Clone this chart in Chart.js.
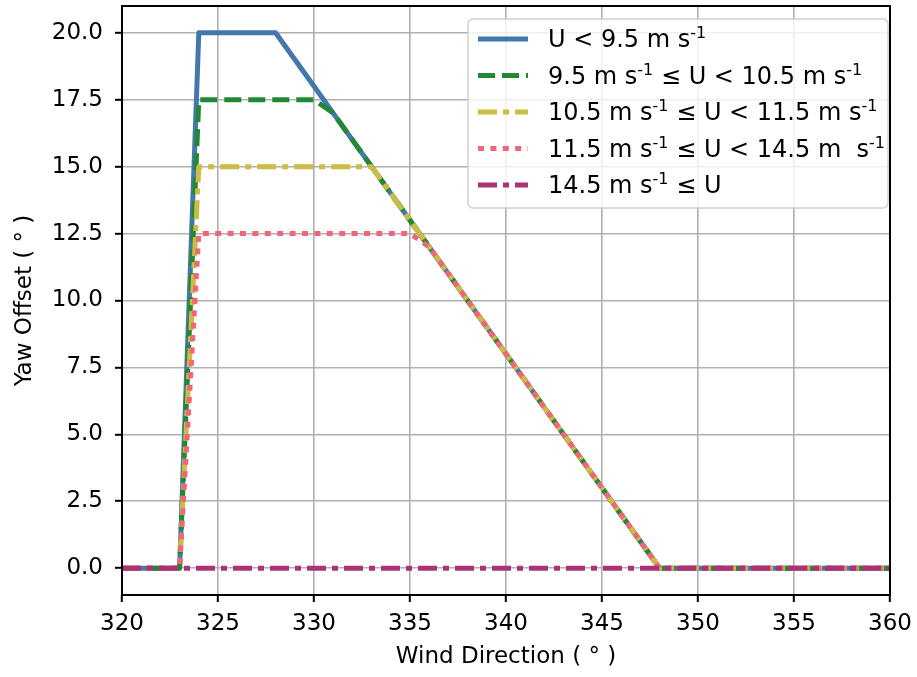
<!DOCTYPE html>
<html><head><meta charset="utf-8">
<script src="https://cdn.jsdelivr.net/npm/chart.js@4"></script>
<style>html,body{margin:0;padding:0;background:#fff;} canvas{display:block;}</style>
</head><body>
<canvas id="c" width="917" height="677"></canvas>
<script>
// ---- data ----
const windDirection = [320,321,322,323,324,325,326,327,328,329,330,331,332,333,334,335,336,337,338,339,340,341,342,343,344,345,346,347,348,349,350,351,352,353,354,355,356,357,358,359,360];
const yawBelow95    = [0,0,0,0,20,20,20,20,20,19,18,17,16,15,14,13,12,11,10,9,8,7,6,5,4,3,2,1,0,0,0,0,0,0,0,0,0,0,0,0,0];
const yaw95to105    = [0,0,0,0,17.5,17.5,17.5,17.5,17.5,17.5,17.5,17,16,15,14,13,12,11,10,9,8,7,6,5,4,3,2,1,0,0,0,0,0,0,0,0,0,0,0,0,0];
const yaw105to115   = [0,0,0,0,15,15,15,15,15,15,15,15,15,15,14,13,12,11,10,9,8,7,6,5,4,3,2,1,0,0,0,0,0,0,0,0,0,0,0,0,0];
const yaw115to145   = [0,0,0,0,12.5,12.5,12.5,12.5,12.5,12.5,12.5,12.5,12.5,12.5,12.5,12.5,12,11,10,9,8,7,6,5,4,3,2,1,0,0,0,0,0,0,0,0,0,0,0,0,0];
const yawAbove145   = [0,0,0,0,0,0,0,0,0,0,0,0,0,0,0,0,0,0,0,0,0,0,0,0,0,0,0,0,0,0,0,0,0,0,0,0,0,0,0,0,0];
const xTicks = [320,325,330,335,340,345,350,355,360];
const yTicks = [0,2.5,5,7.5,10,12.5,15,17.5,20];
const seriesLabels = [
  'U < 9.5 m s^{-1}',
  '9.5 m s^{-1} ≤ U < 10.5 m s^{-1}',
  '10.5 m s^{-1} ≤ U < 11.5 m s^{-1}',
  '11.5 m s^{-1} ≤ U < 14.5 m  s^{-1}',
  '14.5 m s^{-1} ≤ U'
];
const xTitle = 'Wind Direction ( ° )';
const yTitle = 'Yaw Offset ( ° )';

// ---- styles ----
const FONT = 'DejaVu Sans';
const colors = ['#4477AA','#228833','#CCBB44','#EE6677','#AA3377'];
const dashes = [[], [17,7], [19,6,6,6], [6,6.4], [19,6,6,6]];
const LW = 5;
const seriesValues = [yawBelow95, yaw95to105, yaw105to115, yaw115to145, yawAbove145];

const datasets = seriesValues.map((vals, i) => ({
  label: seriesLabels[i],
  data: windDirection.map((x, j) => ({x: x, y: vals[j]})),
  borderColor: colors[i],
  backgroundColor: colors[i],
  borderWidth: LW,
  borderDash: dashes[i],
  borderCapStyle: 'butt',
  borderJoinStyle: 'round',
  pointRadius: 0,
  tension: 0,
  fill: false,
  clip: 0,
  order: seriesValues.length - i
}));

function drawRich(ctx, text, x, y) {
  const parts = text.split(/(\^\{[^}]*\})/);
  for (const p of parts) {
    if (!p) continue;
    if (p.startsWith('^{')) {
      const t = p.slice(2, -1);
      ctx.font = '16px "' + FONT + '"';
      ctx.fillText(t, x, y - 9);
      x += ctx.measureText(t).width;
    } else {
      ctx.font = '24px "' + FONT + '"';
      ctx.fillText(p, x, y);
      x += ctx.measureText(p).width;
    }
  }
}

const framePlugin = {
  id: 'frame',
  afterDatasetsDraw(chart) {
    const {ctx, chartArea: a} = chart;
    ctx.save();
    ctx.strokeStyle = '#000';
    ctx.lineWidth = 2;
    ctx.strokeRect(a.left, a.top, a.right - a.left, a.bottom - a.top);
    ctx.restore();
  },
  afterDraw(chart) {
    const ctx = chart.ctx;
    const bx = 468, by = 19, bw = 420, bh = 189, r = 5;
    ctx.save();
    ctx.beginPath();
    ctx.moveTo(bx + r, by);
    ctx.arcTo(bx + bw, by, bx + bw, by + bh, r);
    ctx.arcTo(bx + bw, by + bh, bx, by + bh, r);
    ctx.arcTo(bx, by + bh, bx, by, r);
    ctx.arcTo(bx, by, bx + bw, by, r);
    ctx.closePath();
    ctx.fillStyle = 'rgba(255,255,255,0.8)';
    ctx.fill();
    ctx.strokeStyle = '#d0d0d0';
    ctx.lineWidth = 1.5;
    ctx.stroke();
    seriesLabels.forEach((lab, i) => {
      const cy = 39 + i * 36.5;
      ctx.beginPath();
      ctx.setLineDash(dashes[i]);
      ctx.lineCap = 'butt';
      ctx.strokeStyle = colors[i];
      ctx.lineWidth = LW;
      ctx.moveTo(478, cy);
      ctx.lineTo(528, cy);
      ctx.stroke();
      ctx.setLineDash([]);
      ctx.fillStyle = '#000';
      ctx.textBaseline = 'alphabetic';
      ctx.textAlign = 'left';
      drawRich(ctx, lab, 548, cy + 8);
    });
    ctx.restore();
  }
};

const tickFont = {family: FONT, size: 23};
new Chart(document.getElementById('c'), {
  type: 'line',
  data: {datasets: datasets},
  options: {
    responsive: false,
    animation: false,
    devicePixelRatio: 1,
    layout: {padding: {left: 0, top: 6, right: 27, bottom: 0}},
    plugins: {legend: {display: false}, tooltip: {enabled: false}},
    scales: {
      x: {
        type: 'linear', min: 320, max: 360,
        afterBuildTicks: s => { s.ticks = xTicks.map(v => ({value: v})); },
        afterFit: s => { s.height = 82; s.paddingLeft = 0; s.paddingRight = 0; },
        grid: {color: '#b0b0b0', lineWidth: 1.6, tickLength: 7, tickColor: '#000', tickWidth: 2},
        border: {display: false},
        ticks: {color: '#000', font: tickFont, padding: 8, maxRotation: 0, autoSkip: false},
        title: {display: true, text: xTitle, color: '#000', font: tickFont, padding: {top: 0, bottom: 6}}
      },
      y: {
        type: 'linear', min: -1, max: 21,
        afterBuildTicks: s => { s.ticks = yTicks.map(v => ({value: v})); },
        afterFit: s => { s.width = 122; s.paddingTop = 0; s.paddingBottom = 0; },
        grid: {color: '#b0b0b0', lineWidth: 1.6, tickLength: 7, tickColor: '#000', tickWidth: 2},
        border: {display: false},
        ticks: {color: '#000', font: tickFont, padding: 12, autoSkip: false, callback: v => Number(v).toFixed(1)},
        title: {display: true, text: yTitle, color: '#000', font: tickFont, padding: {top: 11, bottom: 0}}
      }
    }
  },
  plugins: [framePlugin]
});
</script>
</body></html>
